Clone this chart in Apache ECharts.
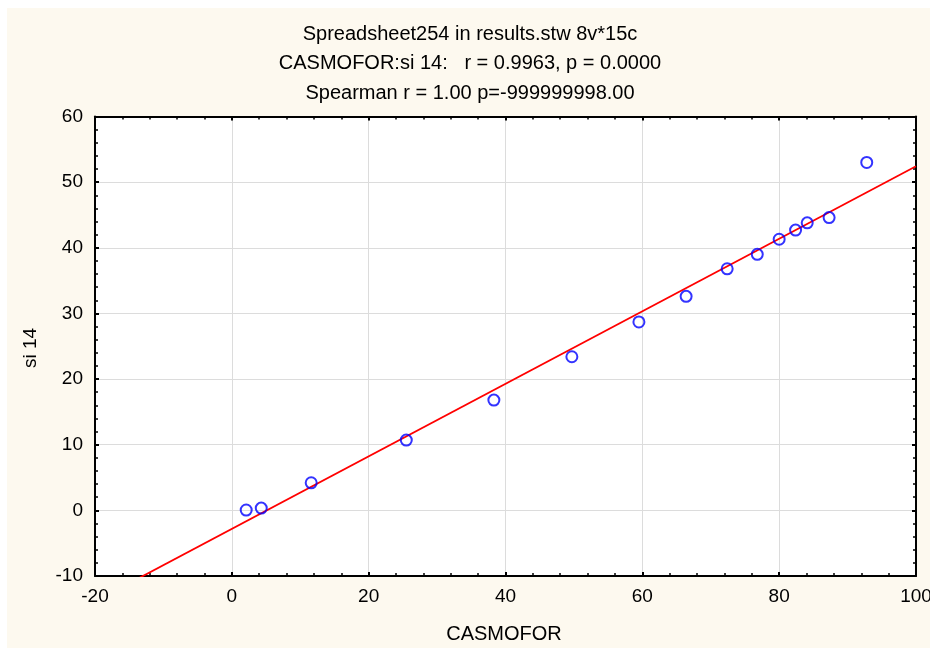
<!DOCTYPE html>
<html>
<head>
<meta charset="utf-8">
<script src="https://cdn.jsdelivr.net/npm/echarts@6/dist/echarts.min.js"></script>
<style>
  html, body { margin: 0; padding: 0; background: #ffffff; overflow: hidden; }
  #chart { position: absolute; left: 7px; top: 8px; width: 923px; height: 640px; background: #fdf9ef; }
</style>
</head>
<body>
<div id="chart"></div>
<script>
// CASMOFOR vs si 14 observations (15 cases)
const casmofor = [2.1, 4.3, 11.6, 25.5, 38.3, 49.7, 59.5, 66.4, 72.4, 76.8, 80.0, 82.4, 84.1, 87.3, 92.8];
const si14 = [0.05, 0.35, 4.2, 10.7, 16.8, 23.4, 28.7, 32.6, 36.8, 39.0, 41.3, 42.7, 43.8, 44.6, 53.0];

const titleLines = [
  'Spreadsheet254 in results.stw 8v*15c',
  'CASMOFOR:si 14:   r = 0.9963, p = 0.0000',
  'Spearman r = 1.00 p=-999999998.00'
];
const xName = 'CASMOFOR';
const yName = 'si 14';
const xRange = [-20, 100];
const yRange = [-10, 60];

// least-squares fit line
const n = casmofor.length;
const mx = casmofor.reduce((a, b) => a + b, 0) / n;
const my = si14.reduce((a, b) => a + b, 0) / n;
let sxy = 0, sxx = 0;
for (let i = 0; i < n; i++) {
  sxy += (casmofor[i] - mx) * (si14[i] - my);
  sxx += (casmofor[i] - mx) * (casmofor[i] - mx);
}
const slope = sxy / sxx;
const intercept = my - slope * mx;
const fitLine = xRange.map(x => [x, intercept + slope * x]);

const FONT = '"Liberation Sans", Arial, sans-serif';
const FS = 19;
const FT = 20;
const axisCommon = {
  axisLine: { show: true, onZero: false, lineStyle: { color: '#000', width: 2 } },
  axisTick: { show: true, inside: true, length: 4, lineStyle: { color: '#000', width: 2 } },
  minorTick: { show: true, splitNumber: 5, length: 3, lineStyle: { color: '#000', width: 1.5 } },
};

const chart = echarts.init(document.getElementById('chart'), null, { renderer: 'canvas' });
chart.setOption({
  backgroundColor: '#fdf9ef',
  animation: false,
  graphic: titleLines.map((t, i) => ({
    type: 'text',
    x: 463, y: 26 + i * 29.5,
    style: { text: t, font: FT + 'px ' + FONT, fill: '#000', align: 'center', verticalAlign: 'middle' }
  })).concat([
    { type: 'text', x: 497, y: 626, style: { text: xName, font: FT + 'px ' + FONT, fill: '#000', align: 'center', verticalAlign: 'middle' } },
    { type: 'text', x: 24, y: 340, rotation: Math.PI / 2, style: { text: yName, font: FS + 'px ' + FONT, fill: '#000', align: 'center', verticalAlign: 'middle' } }
  ]),
  grid: {
    left: 88, right: 14, top: 108.5, bottom: 72,
    containLabel: false, outerBoundsMode: 'none',
    show: true, backgroundColor: '#ffffff', borderWidth: 0
  },
  xAxis: [
    Object.assign({
      type: 'value', min: xRange[0], max: xRange[1], interval: 20, position: 'bottom',
      axisLabel: { color: '#000', fontSize: FS, fontFamily: FONT, margin: 11 },
      splitLine: { show: true, lineStyle: { color: '#dcdcdc', width: 1 } }
    }, axisCommon),
    Object.assign({
      type: 'value', min: xRange[0], max: xRange[1], interval: 20, position: 'top',
      axisLabel: { show: false }, splitLine: { show: false }
    }, axisCommon)
  ],
  yAxis: [
    Object.assign({
      type: 'value', min: yRange[0], max: yRange[1], interval: 10, position: 'left',
      axisLabel: { color: '#000', fontSize: FS, fontFamily: FONT, margin: 12 },
      splitLine: { show: true, lineStyle: { color: '#dcdcdc', width: 1 } }
    }, axisCommon),
    Object.assign({
      type: 'value', min: yRange[0], max: yRange[1], interval: 10, position: 'right',
      axisLabel: { show: false }, splitLine: { show: false }
    }, axisCommon)
  ],
  series: [
    {
      type: 'line', data: fitLine, showSymbol: false, clip: true,
      lineStyle: { color: '#ff0000', width: 1.8 }, silent: true, z: 3
    },
    {
      type: 'scatter', data: casmofor.map((x, i) => [x, si14[i]]),
      symbol: 'circle', symbolSize: 11,
      itemStyle: { color: 'rgba(255,255,255,0)', borderColor: '#0000ff', borderWidth: 2 }, z: 4
    }
  ]
});
</script>
</body>
</html>
